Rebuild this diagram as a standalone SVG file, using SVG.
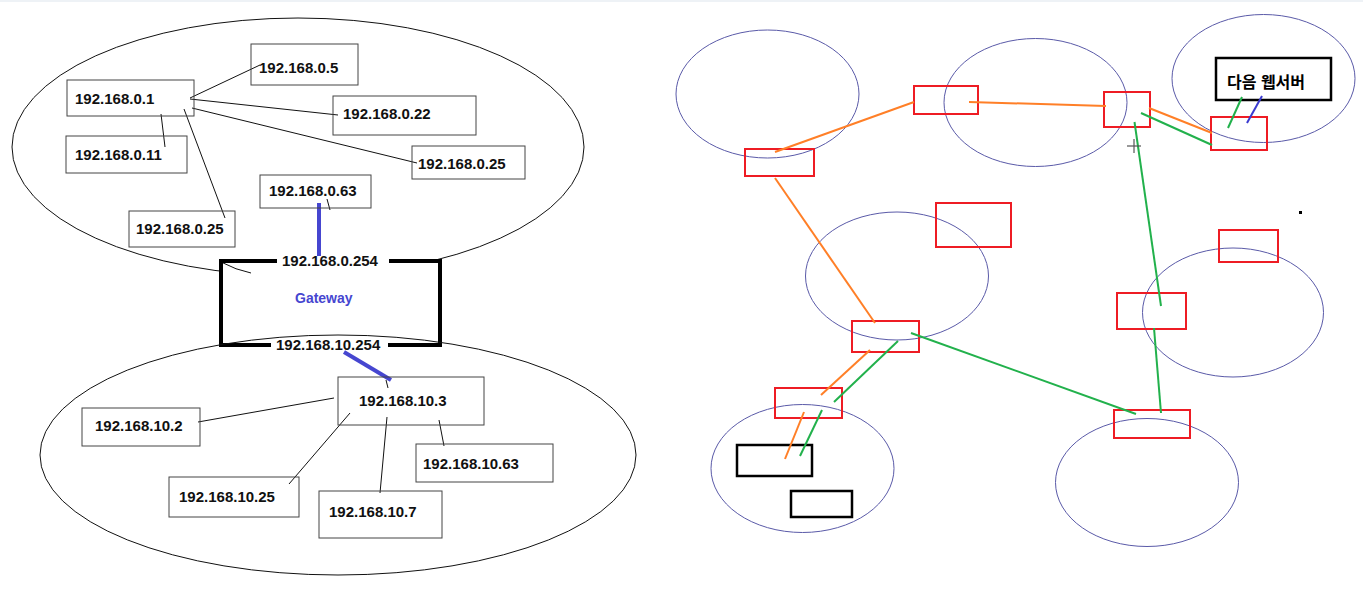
<svg xmlns="http://www.w3.org/2000/svg" width="1363" height="594" viewBox="0 0 1363 594">
<style>
.bg{fill:#fff}
.ell{fill:none;stroke:#111;stroke-width:1}
.box{fill:#fff;stroke:#444;stroke-width:1}
.t{font-family:"Liberation Sans",Arial,sans-serif;font-weight:bold;font-size:15px;fill:#111}
.ln{stroke:#111;stroke-width:1;fill:none}
.blue{stroke:#4646d0;stroke-width:4;fill:none}
.circ{fill:none;stroke:#5a5aa8;stroke-width:1}
.red{fill:none;stroke:#ee1c24;stroke-width:2}
.blk{fill:none;stroke:#000;stroke-width:2.5}
.or{stroke:#ff7f27;stroke-width:2;fill:none}
.gr{stroke:#22b14c;stroke-width:2;fill:none}
</style>
<rect class="bg" x="0" y="0" width="1363" height="594"/>
<rect x="0" y="0" width="1363" height="2" fill="#eef2f6"/>

<!-- Left network -->
<g id="net0"><ellipse class="ell" cx="298" cy="147" rx="286" ry="129"/></g>
<g id="gateway">
  <rect x="221" y="261" width="219" height="84" fill="#fff"/>
  <path d="M221,262 Q236,270 251,273" fill="none" stroke="#111" stroke-width="1"/>
  <path d="M277,261 H221 V345 H271 M388,345 H440 V261 H389" fill="none" stroke="#000" stroke-width="4"/>
  <text class="t" x="282" y="266">192.168.0.254</text>
  <text class="t" x="276" y="350">192.168.10.254</text>
  <text x="295" y="303" font-family="Liberation Sans,Arial,sans-serif" font-weight="bold" font-size="14" fill="#4646d0">Gateway</text>
</g>
<g id="net10"><path class="ell" d="M40,455 A298,120 0 1,1 636,455 A298,120 0 1,1 40,455 Z"/></g>

<g id="connectors-left">
  <line class="ln" x1="190" y1="98" x2="260" y2="65"/>
  <line class="ln" x1="190" y1="99" x2="338" y2="115"/>
  <line class="ln" x1="192" y1="108" x2="417" y2="163"/>
  <line class="ln" x1="161" y1="114" x2="165" y2="147"/>
  <line class="ln" x1="184" y1="109" x2="225" y2="218"/>
  <line class="ln" x1="327" y1="199" x2="330" y2="210"/>
  <line class="blue" x1="319" y1="203" x2="319" y2="256"/>
  <line class="blue" x1="344" y1="352" x2="391" y2="380"/>
  <line class="ln" x1="386" y1="380" x2="388" y2="388"/>
  <line class="ln" x1="198" y1="422" x2="334" y2="398"/>
  <line class="ln" x1="350" y1="413" x2="289" y2="484"/>
  <line class="ln" x1="387" y1="417" x2="380" y2="493"/>
  <line class="ln" x1="439" y1="420" x2="444" y2="446"/>
</g>

<g id="n0_1"><rect class="box" x="67" y="80" width="127" height="36" fill-opacity="0"/><text class="t" x="75" y="104">192.168.0.1</text></g>
<g id="n0_5"><rect class="box" x="251" y="44" width="107" height="41" fill-opacity="0"/><text class="t" x="259" y="73">192.168.0.5</text></g>
<g id="n0_22"><rect class="box" x="333" y="96" width="143" height="39" fill-opacity="0"/><text class="t" x="343" y="119">192.168.0.22</text></g>
<g id="n0_25a"><rect class="box" x="412" y="146" width="113" height="33" fill-opacity="0"/><text class="t" x="418" y="169">192.168.0.25</text></g>
<g id="n0_11"><rect class="box" x="66" y="136" width="121" height="37" fill-opacity="0"/><text class="t" x="75" y="160">192.168.0.11</text></g>
<g id="n0_25b"><rect class="box" x="129" y="211" width="106" height="36" fill-opacity="0"/><text class="t" x="136" y="234">192.168.0.25</text></g>
<g id="n0_63"><rect class="box" x="260" y="175" width="111" height="33" fill-opacity="0"/><text class="t" x="269" y="196">192.168.0.63</text></g>

<g id="n10_3"><rect class="box" x="338" y="377" width="146" height="48" fill-opacity="0"/><text class="t" x="359" y="406">192.168.10.3</text></g>
<g id="n10_2"><rect class="box" x="82" y="408" width="118" height="38" fill-opacity="0"/><text class="t" x="95" y="431">192.168.10.2</text></g>
<g id="n10_25"><rect class="box" x="169" y="477" width="130" height="40" fill-opacity="0"/><text class="t" x="179" y="502">192.168.10.25</text></g>
<g id="n10_7"><rect class="box" x="319" y="491" width="123" height="47" fill-opacity="0"/><text class="t" x="329" y="517">192.168.10.7</text></g>
<g id="n10_63"><rect class="box" x="416" y="444" width="137" height="38" fill-opacity="0"/><text class="t" x="423" y="469">192.168.10.63</text></g>

<!-- Right network -->
<g id="circles">
  <ellipse class="circ" cx="767.5" cy="94" rx="91.5" ry="64"/>
  <ellipse class="circ" cx="1035.5" cy="102.5" rx="91.5" ry="64"/>
  <ellipse class="circ" cx="1263.5" cy="78.5" rx="91.5" ry="64"/>
  <ellipse class="circ" cx="897" cy="276" rx="91.5" ry="64"/>
  <ellipse class="circ" cx="1233" cy="312.5" rx="90.5" ry="64.5"/>
  <ellipse class="circ" cx="802.5" cy="468.5" rx="91.5" ry="64"/>
  <ellipse class="circ" cx="1147" cy="482.5" rx="91.5" ry="64"/>
</g>
<g id="r1"><rect class="red" x="745" y="149" width="69" height="27"/></g>
<g id="r2"><rect class="red" x="914" y="86" width="64" height="28"/></g>
<g id="r3"><rect class="red" x="1104" y="92" width="46" height="35"/></g>
<g id="r4"><rect class="red" x="1211" y="117" width="56" height="33"/></g>
<g id="r5"><rect class="red" x="936" y="203" width="75" height="44"/></g>
<g id="r6"><rect class="red" x="1219" y="230" width="59" height="32"/></g>
<g id="r7"><rect class="red" x="1117" y="293" width="69" height="36"/></g>
<g id="r8"><rect class="red" x="852" y="321" width="67" height="31"/></g>
<g id="r9"><rect class="red" x="775" y="388" width="67" height="30"/></g>
<g id="r10"><rect class="red" x="1114" y="410" width="76" height="28"/></g>
<g id="web"><rect class="blk" x="1216" y="58" width="115" height="42"/><text x="1227" y="88" font-family="Liberation Sans,'Noto Sans CJK KR',sans-serif" font-weight="bold" font-size="16" fill="#000">다음 웹서버</text></g>
<g id="b2"><rect class="blk" x="737" y="445" width="75" height="31"/></g>
<g id="b3"><rect class="blk" x="791" y="491" width="61" height="26"/></g>

<g id="connectors-right">
  <line class="or" x1="775" y1="152" x2="914" y2="102"/>
  <line class="or" x1="969" y1="102" x2="1106" y2="106"/>
  <line class="or" x1="1149" y1="108" x2="1212" y2="133"/>
  <line class="or" x1="775" y1="178" x2="875" y2="323"/>
  <line class="or" x1="870" y1="350" x2="821" y2="395"/>
  <line class="or" x1="804" y1="412" x2="785" y2="459"/>
  <line class="gr" x1="1141" y1="113" x2="1212" y2="145"/>
  <line class="gr" x1="1134.5" y1="122" x2="1161" y2="306"/>
  <line class="gr" x1="1154" y1="328" x2="1161" y2="413"/>
  <line class="gr" x1="911" y1="333" x2="1136" y2="414"/>
  <line class="gr" x1="898" y1="341" x2="834" y2="402"/>
  <line class="gr" x1="822" y1="410" x2="800" y2="456"/>
  <line class="gr" x1="1242" y1="97" x2="1228" y2="128"/>
  <line x1="1262" y1="96" x2="1247" y2="123" stroke="#3a3ad0" stroke-width="2"/>
</g>
<g id="cursor" stroke="#555" stroke-width="1.2">
  <line x1="1134" y1="139" x2="1134" y2="153"/>
  <line x1="1127" y1="146" x2="1141" y2="146"/>
</g>
<rect x="1299" y="211" width="3" height="3" fill="#000"/>
</svg>
